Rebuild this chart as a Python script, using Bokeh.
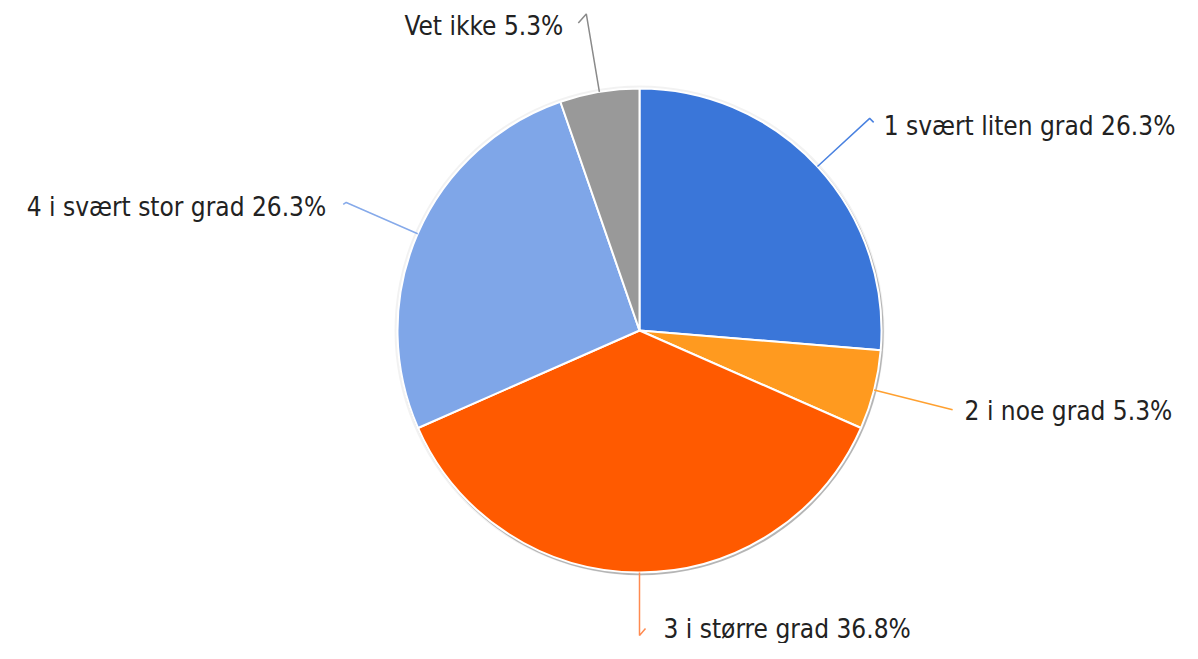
import math
from bokeh.plotting import figure
from bokeh.models import Range1d, ColumnDataSource
from bokeh.core.properties import value
from bokeh.embed import file_html
from bokeh.resources import INLINE

# ---- data ----
categories = ["1 svært liten grad", "2 i noe grad", "3 i større grad",
              "4 i svært stor grad", "Vet ikke"]
shares = [26.3, 5.3, 36.8, 26.3, 5.3]
colors = ["#3a76d9", "#ff9a1f", "#ff5a00", "#7fa6e8", "#999999"]
line_colors = ["#4a82e0", "#ffa030", "#ff8a50", "#86aaea", "#8a8a8a"]

# ---- layout (pixels) ----
W, H = 1182, 643
CX, CY = 639, H - 330
R = 242
R_LEAD = [313, 323, 305, 320, 321]
FONT = "'DejaVu Sans Condensed', 'DejaVu Sans'"
FONT_SIZE = "26px"
# label anchor offsets relative to leader end (data units, y up) and alignment
label_off = [(14, -8), (12, -1), (24, 7), (-20, -5), (-23, -12)]
label_align = ["left", "left", "left", "right", "right"]
hook = [(4, -4), (0, 0), (6, 7), (-3, -2), (-8, -9)]

total = sum(shares)
starts, ends, mids = [], [], []
acc = 0.0
for s in shares:
    a0 = 90 - acc / total * 360
    acc += s
    a1 = 90 - acc / total * 360
    starts.append(a0)
    ends.append(a1)
    mids.append((a0 + a1) / 2)

p = figure(width=W, height=H, output_backend="svg", toolbar_location=None,
           x_range=Range1d(0, W), y_range=Range1d(0, H), min_border=0,
           outline_line_color=None)
p.axis.visible = False
p.grid.visible = False
p.background_fill_color = "white"
p.border_fill_color = "white"

# soft shadow
p.circle(x=[CX], y=[CY], radius=R + 3, fill_color="#000000", fill_alpha=0.05, line_color=None)
p.circle(x=[CX + 1], y=[CY - 1.5], radius=R + 1.2, fill_color="#000000", fill_alpha=0.25, line_color=None)

src = ColumnDataSource(dict(start=starts, end=ends, color=colors))
p.wedge(x=CX, y=CY, radius=R, start_angle="start", end_angle="end",
        start_angle_units="deg", end_angle_units="deg", direction="clock",
        fill_color="color", line_color="white", line_width=2, source=src)

xs, ys, lx, ly, txt = [], [], [], [], []
for i, m in enumerate(mids):
    c, s = math.cos(math.radians(m)), math.sin(math.radians(m))
    x0, y0 = CX + R * c, CY + R * s
    x1, y1 = CX + R_LEAD[i] * c, CY + R_LEAD[i] * s
    hx, hy = hook[i]
    xs.append([x0, x1, x1 + hx])
    ys.append([y0, y1, y1 + hy])
    lx.append(x1 + label_off[i][0])
    ly.append(y1 + label_off[i][1])
    txt.append(f"{categories[i]} {shares[i]:.1f}%")

p.multi_line(xs=xs, ys=ys, line_color=line_colors, line_width=1.5)

for i in range(len(categories)):
    p.text(x=[lx[i]], y=[ly[i]], text=[txt[i]], text_font=value(FONT),
           text_font_size=FONT_SIZE, text_color="#222222",
           text_baseline="middle", text_align=label_align[i])

open("out.html", "w").write(file_html(p, INLINE))
